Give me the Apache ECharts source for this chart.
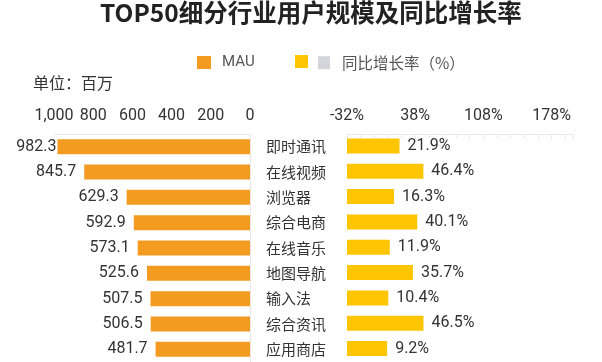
<!DOCTYPE html>
<html>
<head>
<meta charset="utf-8">
<script src="https://cdn.jsdelivr.net/npm/echarts@6/dist/echarts.min.js"></script>
<style>html,body{margin:0;padding:0;background:#fff}#c{width:602px;height:362px}</style>
</head>
<body>
<div id="c"></div>
<script>
const categories = ['即时通讯','在线视频','浏览器','综合电商','在线音乐','地图导航','输入法','综合资讯','应用商店'];
const mau = [982.3, 845.7, 629.3, 592.9, 573.1, 525.6, 507.5, 506.5, 481.7];
const yoy = [21.9, 46.4, 16.3, 40.1, 11.9, 35.7, 10.4, 46.5, 9.2];
const mauTicks = [0, 200, 400, 600, 800, 1000];
const yoyTicks = [-32, 38, 108, 178];
const yoyAxisMin = -32, yoyAxisMax = 200;

const numFont = 'Roboto';
const cjkFont = 'Noto Sans CJK SC';
const orange = '#F39A21';
const yellow = '#FFC600';
const gray = '#D4D5DA';
const faint = '#E8E8E8';

const chart = echarts.init(document.getElementById('c'), null, {renderer: 'canvas'});
chart.setOption({
  animation: false,
  backgroundColor: '#fff',
  title: [
    {text: 'TOP50细分行业用户规模及同比增长率', left: 100, top: 0, padding: 0,
     textStyle: {fontFamily: cjkFont, fontSize: 24.5, fontWeight: 'bold', color: '#222'}},
    {text: '单位：百万', left: 33, top: 75, padding: 0,
     textStyle: {fontFamily: cjkFont, fontSize: 16, fontWeight: 'normal', color: '#333'}}
  ],
  legend: [
    {data: ['MAU'], left: 197, top: 55, padding: 0, icon: 'rect', itemWidth: 14, itemHeight: 13,
     textStyle: {fontFamily: numFont, fontSize: 15, color: '#555', padding: [0,0,0,6]}},
    {data: ['同比增长率'], left: 295, top: 55, padding: 0, icon: 'rect', itemWidth: 13, itemHeight: 13,
     formatter: () => '', textStyle: {fontSize: 15}},
    {data: ['同比增长率（%）'], left: 318, top: 55, padding: 0, icon: 'rect', itemWidth: 12, itemHeight: 13,
     textStyle: {fontFamily: cjkFont, fontSize: 15.5, color: '#555', padding: [0,0,0,7]}}
  ],
  grid: [
    {left: 54, width: 196, top: 134, height: 233},
    {left: 347, width: 226, top: 134, height: 233}
  ],
  xAxis: [
    {gridIndex: 0, type: 'value', inverse: true, position: 'top',
     min: mauTicks[0], max: mauTicks[mauTicks.length - 1], interval: 200,
     axisLine: {show: true, lineStyle: {color: faint}},
     axisTick: {show: false}, splitLine: {show: false},
     axisLabel: {margin: 10, fontFamily: numFont, fontSize: 16, color: '#333'}},
    {gridIndex: 1, type: 'value', position: 'top',
     min: 0, max: yoyAxisMax - yoyAxisMin, interval: 70,
     axisLine: {show: true, lineStyle: {color: faint}},
     axisTick: {show: true, inside: true, length: 5, lineStyle: {color: faint}},
     minorTick: {show: true, splitNumber: 5, length: 4, lineStyle: {color: faint}},
     splitLine: {show: false},
     axisLabel: {margin: 10, fontFamily: numFont, fontSize: 16, color: '#333', showMaxLabel: false,
       formatter: v => { const t = v + yoyAxisMin; return yoyTicks.includes(t) ? t + '%' : ''; }}}
  ],
  yAxis: [
    {gridIndex: 0, type: 'category', data: categories, inverse: true, position: 'right',
     axisLine: {show: true, lineStyle: {color: faint}}, axisTick: {show: false},
     axisLabel: {margin: 16, align: 'left', fontFamily: cjkFont, fontSize: 15, color: '#333'}},
    {gridIndex: 1, type: 'category', data: categories, inverse: true, show: false}
  ],
  series: [
    {name: 'MAU', type: 'bar', xAxisIndex: 0, yAxisIndex: 0, barWidth: 15,
     itemStyle: {color: orange},
     data: mau.map((v, i) => i === 0 ? {value: v, label: {distance: 1}} : v),
     label: {show: true, position: 'left', distance: 8, fontFamily: numFont, fontSize: 16, color: '#333'}},
    {name: '同比增长率', type: 'bar', xAxisIndex: 1, yAxisIndex: 1, barWidth: 15,
     itemStyle: {color: yellow},
     data: yoy.map(v => ({value: v - yoyAxisMin, raw: v})),
     label: {show: true, position: 'right', distance: 8, fontFamily: numFont, fontSize: 16, color: '#333',
       formatter: p => p.data.raw + '%'}},
    {name: '同比增长率（%）', type: 'bar', xAxisIndex: 1, yAxisIndex: 1, itemStyle: {color: gray}, data: []}
  ]
});
</script>
</body>
</html>
